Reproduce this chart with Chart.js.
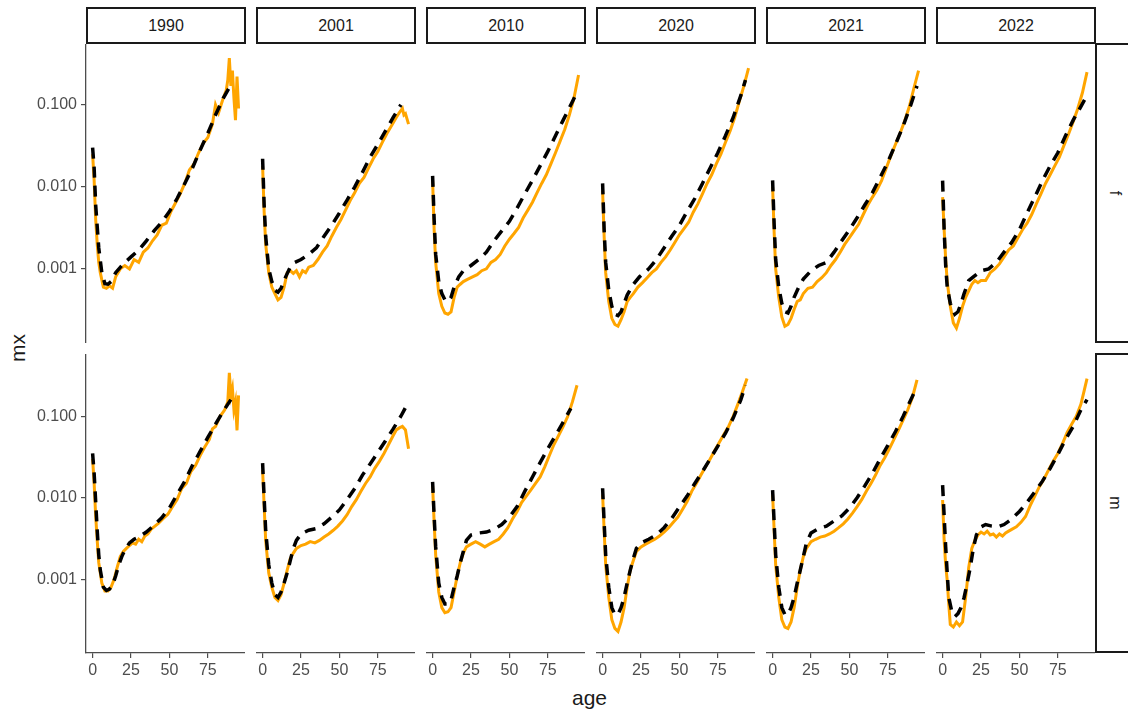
<!DOCTYPE html>
<html>
<head>
<meta charset="utf-8">
<script src="https://cdn.jsdelivr.net/npm/chart.js@4/dist/chart.umd.min.js"></script>
<style>
  body { margin: 0; width: 1128px; height: 713px; overflow: hidden; background: #fff; font-family: "Liberation Sans", Arial, sans-serif; position: relative; }
  canvas { position: absolute; }
  .strip { position: absolute; box-sizing: border-box; border: 2px solid #1a1a1a; background: #fff; color: #1a1a1a; font-size: 16px; display: flex; align-items: center; justify-content: center; }
  .strip span.rot { transform: rotate(90deg); display: inline-block; }
  .title { position: absolute; color: #1a1a1a; font-size: 21px; }
</style>
</head>
<body>
<div class="title" style="left:572px;top:686px;">age</div>
<div class="title" style="left:4px;top:336px;transform:rotate(-90deg);">mx</div>
<script>
// facettes
var years = ['1990', '2001', '2010', '2020', '2021', '2022'];
var sexes = ['f', 'm'];
var xTicks = [0, 25, 50, 75];
var yTicks = [0.001, 0.01, 0.1];

// ---- femmes ----
var f1990ObsAge = [0,1,2,3,4,5,7,9,11,13,15,18,21,24,27,30,33,36,39,42,45,48,51,54,57,60,63,66,69,72,75,78,80,82,85,87,88,89,90,91,92,93,94,95];
var f1990ObsMx = [0.025,0.012,0.004,0.002,0.0012,0.0009,0.0006,0.00058,0.00062,0.00058,0.0008,0.001,0.0011,0.001,0.0013,0.0012,0.0016,0.0018,0.0022,0.0026,0.0034,0.0036,0.005,0.0064,0.0082,0.011,0.016,0.019,0.026,0.034,0.04,0.058,0.1,0.08,0.12,0.15,0.2,0.37,0.17,0.26,0.12,0.065,0.22,0.09];
var f1990FitAge = [0,1,2,4,6,8,10,12,15,20,25,30,35,40,45,50,55,60,65,70,75,80,85,90];
var f1990FitMx = [0.03,0.017,0.006,0.0018,0.0009,0.00066,0.00065,0.0007,0.0009,0.00115,0.0014,0.0017,0.0022,0.0029,0.0037,0.005,0.0072,0.011,0.017,0.028,0.045,0.075,0.12,0.175];

var f2001ObsAge = [0,1,2,4,6,8,10,12,14,16,18,20,22,24,26,28,30,33,36,39,42,45,48,51,54,57,60,63,66,69,72,75,78,81,84,87,89,91,92,93,95];
var f2001ObsMx = [0.018,0.005,0.002,0.0009,0.0006,0.0005,0.00042,0.00045,0.0006,0.0009,0.00095,0.00088,0.00095,0.0008,0.00095,0.0009,0.00105,0.0011,0.0013,0.0016,0.0019,0.0025,0.0032,0.004,0.0052,0.0068,0.0085,0.011,0.013,0.017,0.022,0.027,0.035,0.045,0.056,0.07,0.08,0.09,0.075,0.078,0.058];
var f2001FitAge = [0,1,2,4,6,8,10,12,15,18,21,25,30,35,40,45,50,55,60,65,70,75,80,85,90];
var f2001FitMx = [0.022,0.006,0.0025,0.001,0.0007,0.00055,0.00052,0.00058,0.0008,0.00105,0.0012,0.0013,0.0015,0.0018,0.0025,0.0034,0.0048,0.0069,0.01,0.015,0.023,0.033,0.048,0.07,0.1];

var f2010ObsAge = [0,1,2,4,6,8,10,12,14,16,18,20,23,26,29,32,35,38,41,44,47,50,53,56,59,62,65,68,71,74,77,80,83,86,89,92,95];
var f2010ObsMx = [0.012,0.003,0.0012,0.0005,0.00035,0.00029,0.00028,0.0003,0.00045,0.0006,0.00065,0.0007,0.00075,0.0008,0.00085,0.00095,0.001,0.0012,0.0013,0.0015,0.0019,0.0023,0.0027,0.0032,0.0042,0.0052,0.0065,0.0085,0.011,0.014,0.019,0.026,0.036,0.05,0.075,0.12,0.23];
var f2010FitAge = [0,1,2,4,6,8,10,12,14,17,20,25,30,35,40,45,50,55,60,65,70,75,80,85,90,93];
var f2010FitMx = [0.0136,0.004,0.0015,0.0007,0.0005,0.00042,0.0004,0.00045,0.0006,0.0008,0.00095,0.0011,0.0013,0.0016,0.0022,0.0029,0.0038,0.0055,0.0082,0.012,0.018,0.027,0.042,0.065,0.1,0.13];

var f2020ObsAge = [0,1,2,4,6,8,10,12,14,16,18,20,23,26,29,32,35,38,41,44,47,50,53,56,59,62,65,68,71,74,77,80,83,86,89,92,95];
var f2020ObsMx = [0.009,0.0025,0.0009,0.0004,0.00025,0.00021,0.0002,0.00024,0.0003,0.0004,0.00045,0.0005,0.0006,0.00068,0.00078,0.0009,0.001,0.0012,0.0014,0.0017,0.0021,0.0026,0.0031,0.0037,0.0049,0.0062,0.0082,0.011,0.014,0.019,0.025,0.035,0.048,0.07,0.11,0.17,0.28];
var f2020FitAge = [0,1,2,4,6,8,10,12,14,16,20,24,30,35,40,45,50,55,60,65,70,75,80,85,90,93];
var f2020FitMx = [0.011,0.003,0.0012,0.00055,0.00035,0.00028,0.00027,0.0003,0.00038,0.00048,0.00065,0.0008,0.001,0.0013,0.0018,0.0025,0.0034,0.005,0.0072,0.011,0.017,0.026,0.042,0.07,0.13,0.2];

var f2021ObsAge = [0,1,2,4,6,8,10,12,14,16,18,20,23,26,29,32,35,38,41,44,47,50,53,56,59,62,65,68,71,74,77,80,83,86,89,92,95];
var f2021ObsMx = [0.01,0.0028,0.001,0.00045,0.00026,0.0002,0.00021,0.00025,0.00032,0.0004,0.00042,0.0005,0.00058,0.0006,0.0007,0.00078,0.0009,0.0011,0.0013,0.0016,0.002,0.0024,0.0029,0.0035,0.0046,0.006,0.0075,0.0092,0.012,0.017,0.024,0.033,0.045,0.064,0.095,0.16,0.26];
var f2021FitAge = [0,1,2,4,6,8,10,12,14,17,20,25,30,35,40,45,50,55,60,65,70,75,80,85,90,94];
var f2021FitMx = [0.012,0.0035,0.0013,0.0006,0.00038,0.0003,0.00029,0.00035,0.00045,0.0006,0.00075,0.00095,0.0011,0.0012,0.0016,0.0022,0.003,0.0042,0.006,0.0085,0.013,0.02,0.033,0.055,0.1,0.17];

var f2022ObsAge = [0,1,2,3,5,7,9,11,13,15,17,19,21,23,25,28,31,34,37,40,43,46,49,52,55,58,61,64,67,70,73,76,79,82,85,88,91,94];
var f2022ObsMx = [0.0075,0.003,0.0013,0.0007,0.00035,0.00022,0.00019,0.00025,0.00035,0.00045,0.00054,0.00065,0.00072,0.00068,0.00072,0.00072,0.0009,0.001,0.00115,0.0014,0.0017,0.0019,0.0024,0.003,0.0036,0.0046,0.0062,0.0082,0.011,0.014,0.018,0.023,0.032,0.044,0.062,0.09,0.14,0.25];
var f2022FitAge = [0,1,2,3,5,8,10,12,14,17,20,25,30,35,40,45,50,55,60,65,70,75,80,85,90,94];
var f2022FitMx = [0.0119,0.003,0.0011,0.0006,0.00038,0.00028,0.0003,0.00038,0.0005,0.00072,0.0008,0.00095,0.001,0.0012,0.0016,0.0021,0.003,0.0048,0.0075,0.0119,0.018,0.026,0.042,0.065,0.095,0.13];

// ---- hommes ----
var m1990ObsAge = [0,1,2,3,4,6,8,10,12,14,16,18,20,22,24,26,28,30,32,34,36,38,40,43,46,49,52,55,58,61,64,67,70,73,76,78,80,83,86,88,89,90,91,92,93,94,95];
var m1990ObsMx = [0.03,0.015,0.006,0.003,0.0016,0.0009,0.00072,0.00072,0.0008,0.001,0.0014,0.0019,0.0022,0.0024,0.0026,0.0028,0.0027,0.0031,0.0029,0.0034,0.0036,0.0041,0.0044,0.0049,0.0056,0.0063,0.0078,0.0095,0.013,0.015,0.021,0.025,0.033,0.042,0.052,0.07,0.075,0.1,0.12,0.15,0.34,0.18,0.22,0.12,0.15,0.067,0.18];
var m1990FitAge = [0,1,2,3,4,5,7,9,11,13,15,17,19,21,24,27,30,35,40,45,50,55,60,65,70,75,80,85,90];
var m1990FitMx = [0.035,0.02,0.009,0.004,0.002,0.0013,0.0008,0.00073,0.00076,0.00085,0.0011,0.0015,0.0019,0.0023,0.0028,0.0031,0.0033,0.0038,0.0046,0.0057,0.0075,0.011,0.016,0.025,0.037,0.055,0.08,0.115,0.16];

var m2001ObsAge = [0,1,2,4,6,8,10,12,14,16,18,20,22,25,28,31,34,37,40,43,46,49,52,55,58,61,64,67,70,73,76,79,82,85,87,89,91,93,95];
var m2001ObsMx = [0.022,0.008,0.003,0.0012,0.0008,0.0006,0.00055,0.00065,0.0009,0.0013,0.0018,0.0021,0.0024,0.0026,0.0027,0.0029,0.0028,0.003,0.0033,0.0036,0.004,0.0045,0.0052,0.0062,0.0078,0.0095,0.012,0.015,0.018,0.023,0.028,0.035,0.045,0.058,0.068,0.072,0.075,0.068,0.04];
var m2001FitAge = [0,1,2,4,6,8,10,12,14,16,18,20,22,25,30,35,40,45,50,55,60,65,70,75,80,85,90,95];
var m2001FitMx = [0.0266,0.01,0.004,0.0015,0.0009,0.00065,0.0006,0.0007,0.0009,0.0012,0.0017,0.0024,0.003,0.0036,0.004,0.0042,0.0048,0.0058,0.0071,0.0095,0.013,0.019,0.026,0.036,0.05,0.07,0.1,0.15];

var m2010ObsAge = [0,1,2,4,6,8,10,12,14,16,18,20,22,25,28,31,34,37,40,43,46,49,52,55,58,61,64,67,70,73,76,79,82,85,88,91,94];
var m2010ObsMx = [0.014,0.005,0.002,0.0007,0.00045,0.00039,0.0004,0.00045,0.0007,0.0011,0.0016,0.0021,0.0025,0.0027,0.0029,0.0027,0.0025,0.0027,0.0029,0.0031,0.0036,0.0043,0.0055,0.0068,0.0088,0.0105,0.0125,0.015,0.018,0.024,0.033,0.045,0.058,0.075,0.1,0.15,0.24];
var m2010FitAge = [0,1,2,4,6,8,10,12,14,16,18,20,22,25,30,35,40,45,50,55,60,65,70,75,80,85,90];
var m2010FitMx = [0.0157,0.006,0.0025,0.0009,0.0006,0.0005,0.0005,0.00056,0.0008,0.0011,0.0016,0.0022,0.003,0.0035,0.0037,0.0038,0.0041,0.0047,0.0058,0.0078,0.012,0.018,0.027,0.04,0.058,0.085,0.125];

var m2020ObsAge = [0,1,2,4,6,8,10,12,14,16,18,20,22,25,28,31,34,37,40,43,46,49,52,55,58,61,64,67,70,73,76,79,82,85,88,91,94];
var m2020ObsMx = [0.011,0.004,0.0015,0.0006,0.00032,0.00025,0.00023,0.0003,0.00045,0.0008,0.0013,0.0017,0.0022,0.0025,0.0027,0.0029,0.0031,0.0034,0.0038,0.0043,0.005,0.0058,0.0072,0.009,0.012,0.015,0.019,0.024,0.03,0.038,0.048,0.06,0.075,0.1,0.14,0.2,0.29];
var m2020FitAge = [0,1,2,4,6,8,10,12,14,16,18,20,22,25,30,35,40,45,50,55,60,65,70,75,80,85,90,93];
var m2020FitMx = [0.0131,0.005,0.002,0.0008,0.00045,0.00037,0.00037,0.00045,0.0006,0.0009,0.0013,0.0018,0.0024,0.0028,0.0031,0.0035,0.0043,0.0056,0.0077,0.0105,0.015,0.021,0.03,0.043,0.062,0.095,0.16,0.24];

var m2021ObsAge = [0,1,2,4,6,8,10,12,14,16,18,20,22,25,28,31,34,37,40,43,46,49,52,55,58,61,64,67,70,73,76,79,82,85,88,91,94];
var m2021ObsMx = [0.011,0.004,0.0015,0.0006,0.00032,0.00026,0.00025,0.0003,0.00045,0.0008,0.0013,0.0019,0.0024,0.0029,0.0031,0.0033,0.0034,0.0036,0.0039,0.0043,0.0048,0.0055,0.0065,0.0078,0.0095,0.012,0.015,0.019,0.025,0.031,0.04,0.052,0.068,0.09,0.12,0.17,0.28];
var m2021FitAge = [0,1,2,4,6,8,10,12,14,16,18,20,22,25,30,35,40,45,50,55,60,65,70,75,80,85,90,94];
var m2021FitMx = [0.0124,0.005,0.002,0.0008,0.00045,0.00037,0.00037,0.00045,0.0006,0.0009,0.0013,0.0019,0.0028,0.0037,0.0042,0.0045,0.0052,0.006,0.0075,0.01,0.014,0.02,0.03,0.044,0.065,0.1,0.16,0.23];

var m2022ObsAge = [0,1,2,3,4,5,7,9,11,13,15,17,19,21,23,25,27,29,31,33,35,37,39,41,43,45,48,51,54,57,60,63,66,69,72,75,78,81,84,87,90,92,94];
var m2022ObsMx = [0.0094,0.003,0.0015,0.00097,0.0005,0.00028,0.00026,0.0003,0.00027,0.0003,0.0006,0.0014,0.0024,0.003,0.0035,0.0038,0.0036,0.0039,0.0035,0.0036,0.0033,0.0036,0.0034,0.0037,0.0039,0.0041,0.0044,0.005,0.0059,0.008,0.0105,0.0137,0.017,0.022,0.028,0.035,0.046,0.063,0.08,0.1,0.14,0.2,0.29];
var m2022FitAge = [0,1,2,3,4,6,8,10,12,14,16,18,20,22,25,28,32,36,40,45,50,55,60,65,70,75,80,85,90,94];
var m2022FitMx = [0.0143,0.006,0.0025,0.0012,0.0006,0.0004,0.00035,0.00038,0.00045,0.0006,0.0009,0.0014,0.0024,0.0035,0.0044,0.0047,0.0045,0.0044,0.0047,0.0055,0.0068,0.0088,0.0118,0.016,0.023,0.034,0.052,0.075,0.12,0.16];

var panels = {
    f1990: [f1990ObsAge, f1990ObsMx, f1990FitAge, f1990FitMx],
    f2001: [f2001ObsAge, f2001ObsMx, f2001FitAge, f2001FitMx],
    f2010: [f2010ObsAge, f2010ObsMx, f2010FitAge, f2010FitMx],
    f2020: [f2020ObsAge, f2020ObsMx, f2020FitAge, f2020FitMx],
    f2021: [f2021ObsAge, f2021ObsMx, f2021FitAge, f2021FitMx],
    f2022: [f2022ObsAge, f2022ObsMx, f2022FitAge, f2022FitMx],
    m1990: [m1990ObsAge, m1990ObsMx, m1990FitAge, m1990FitMx],
    m2001: [m2001ObsAge, m2001ObsMx, m2001FitAge, m2001FitMx],
    m2010: [m2010ObsAge, m2010ObsMx, m2010FitAge, m2010FitMx],
    m2020: [m2020ObsAge, m2020ObsMx, m2020FitAge, m2020FitMx],
    m2021: [m2021ObsAge, m2021ObsMx, m2021FitAge, m2021FitMx],
    m2022: [m2022ObsAge, m2022ObsMx, m2022FitAge, m2022FitMx]
};

// mise en page (px)
var panelLeft = 86, panelStep = 170, panelW = 159, panelH = 299;
var rowTop = [44, 354];
var rowMax = [0.55, 0.58];
var yAxisW = 60, xAxisH = 34;

Chart.defaults.font.family = '"Liberation Sans", Arial, sans-serif';
Chart.defaults.font.size = 16;
Chart.defaults.color = '#4d4d4d';

function pts(ages, vals) {
    return ages.map(function (a, i) { return { x: a, y: vals[i] }; });
}

function addDiv(cls, left, top, w, h, html) {
    var d = document.createElement('div');
    d.className = cls;
    d.style.left = left + 'px';
    d.style.top = top + 'px';
    d.style.width = w + 'px';
    d.style.height = h + 'px';
    d.innerHTML = html;
    document.body.appendChild(d);
}

// bandeaux du haut et de droite
years.forEach(function (y, c) {
    addDiv('strip', panelLeft + c * panelStep, 7, panelW + 1, 37, y);
});
sexes.forEach(function (s, r) {
    addDiv('strip', 1095, rowTop[r] - 1, 40, panelH + 1, '<span class="rot">' + s + '</span>');
});

sexes.forEach(function (s, r) {
    years.forEach(function (y, c) {
        var d = panels[s + y];
        var showY = c == 0, showX = r == 1;
        var cv = document.createElement('canvas');
        var left = panelLeft + c * panelStep - (showY ? yAxisW : 0);
        var w = panelW + (showY ? yAxisW : 0);
        var h = panelH + (showX ? xAxisH : 0);
        cv.width = w; cv.height = h;
        cv.style.left = left + 'px';
        cv.style.top = rowTop[r] + 'px';
        document.body.appendChild(cv);

        new Chart(cv.getContext('2d'), {
            type: 'line',
            data: {
                datasets: [
                    {
                        label: 'fit',
                        data: pts(d[2], d[3]),
                        borderColor: '#000000',
                        borderWidth: 3.5,
                        borderDash: [11, 8],
                        pointRadius: 0,
                        order: 0
                    },
                    {
                        label: 'obs',
                        data: pts(d[0], d[1]),
                        borderColor: '#FFA500',
                        borderWidth: 3,
                        pointRadius: 0,
                        order: 1
                    }
                ]
            },
            options: {
                responsive: false,
                animation: false,
                devicePixelRatio: 1,
                layout: { padding: 0, autoPadding: false },
                plugins: { legend: { display: false }, tooltip: { enabled: false } },
                scales: {
                    x: {
                        type: 'linear',
                        min: -4.3, max: 99.2,
                        display: showX,
                        afterBuildTicks: function (sc) { sc.ticks = xTicks.map(function (v) { return { value: v }; }); },
                        afterFit: function (sc) {
                            if (showX) sc.height = xAxisH;
                            sc.paddingLeft = 0; sc.paddingRight = 0;
                        },
                        grid: { drawOnChartArea: false, tickLength: 5, color: '#4d4d4d', lineWidth: 1.2 },
                        border: { display: true, color: '#4d4d4d', width: 1.3 },
                        ticks: { padding: 3, maxRotation: 0, autoSkip: false }
                    },
                    y: {
                        type: 'logarithmic',
                        min: 0.000125, max: rowMax[r],
                        display: showY,
                        afterBuildTicks: function (sc) { sc.ticks = yTicks.map(function (v) { return { value: v }; }); },
                        afterFit: function (sc) {
                            if (showY) sc.width = yAxisW;
                            sc.paddingTop = 0; sc.paddingBottom = 0;
                        },
                        grid: { drawOnChartArea: false, tickLength: 5, color: '#4d4d4d', lineWidth: 1.2 },
                        border: { display: true, color: '#4d4d4d', width: 1.3 },
                        ticks: { padding: 4, callback: function (v) { return v.toFixed(3); } }
                    }
                }
            }
        });
    });
});
</script>
</body>
</html>
